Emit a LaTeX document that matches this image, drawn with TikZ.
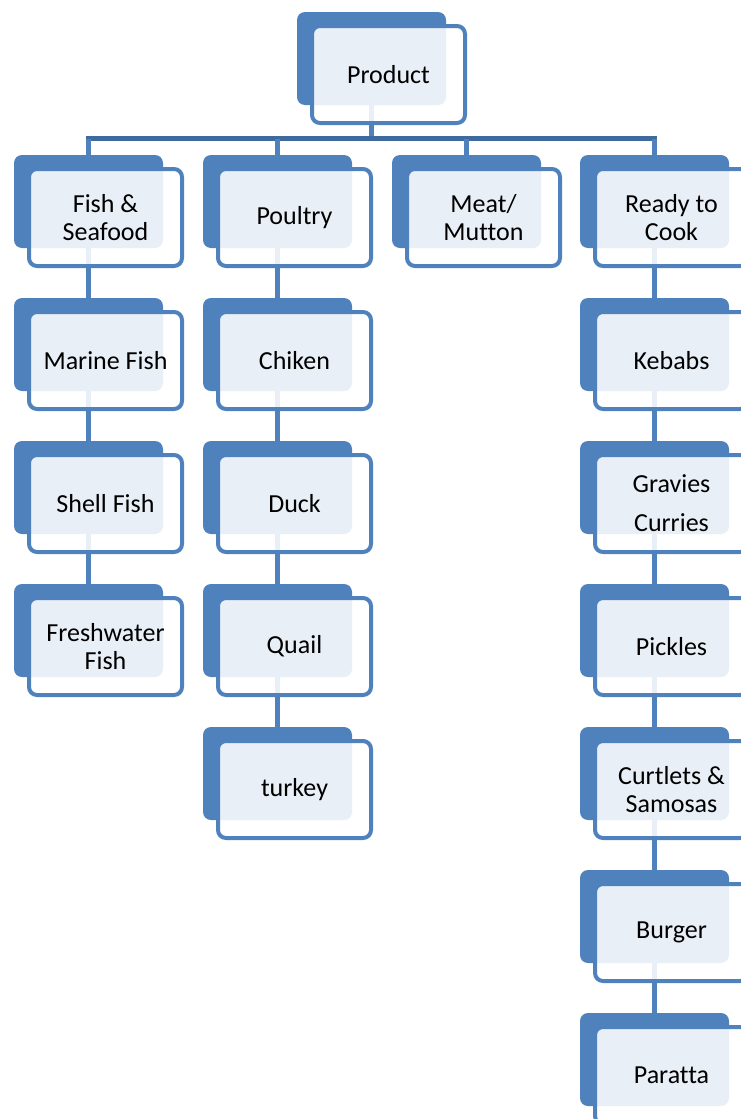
\documentclass[tikz,border=0pt]{standalone}
\usepackage{fontspec}
\setmainfont[Ligatures=NoCommon]{Carlito}
\usetikzlibrary{positioning,backgrounds}
\definecolor{acc}{HTML}{4F81BD}
\definecolor{accdk}{HTML}{3F6A9E}
\tikzset{
  backbox/.style={rounded corners=8pt,fill=acc,minimum width=149pt,minimum height=93pt,
    inner sep=0pt,outer sep=0pt,anchor=north west},
  frontbox/.style={rounded corners=8pt,draw=acc,line width=4pt,fill=white,fill opacity=0.88,
    text opacity=1,minimum width=153pt,minimum height=97pt,inner sep=0pt,outer sep=0pt,
    align=center,font=\fontsize{26}{28}\selectfont},
  link/.style={draw=acc,line width=5pt},
  bus/.style={draw=accdk,line width=5pt},
}
\begin{document}
\begin{tikzpicture}[x=1pt,y=-1pt]
  \useasboundingbox (0,0) rectangle (741,1119);
  \clip (0,0) rectangle (741,1119);
  \foreach \n/\x/\y/\t in {prod/297/12/Product,
      fish/14/155/{Fish \&\\Seafood}, poultry/203/155/Poultry,
      meat/392/155/{Meat/\\Mutton}, ready/580/155/{Ready to\\Cook},
      marine/14/298/{Marine Fish}, shell/14/441/{Shell Fish},
      fresh/14/584/{Freshwater\\Fish},
      chiken/203/298/Chiken, duck/203/441/Duck, quail/203/584/Quail,
      turkey/203/727/turkey,
      kebabs/580/298/Kebabs, gravies/580/441/{Gravies\\[11pt]Curries},
      pickles/580/584/Pickles, curtlets/580/727/{Curtlets \&\\Samosas},
      burger/580/870/Burger, paratta/580/1013/Paratta}{
    \node[backbox] (\n-b) at (\x,\y) {};
    \node[frontbox] (\n) at ([shift={(91.5,62.5)}]\n-b.north west) {\t};
  }
  \coordinate (busy) at (0,138.5);
  \begin{scope}[on background layer]
    \draw[link] (prod-b.south) -- (prod-b.south |- busy);
    \draw[bus] ([xshift=-2.5pt]fish-b.north |- busy) -- ([xshift=2.5pt]ready-b.north |- busy);
    \foreach \c in {fish,poultry,meat,ready}
      \draw[link] (\c-b.north |- busy) -- (\c-b.north);
    \foreach \a/\b in {fish/marine,marine/shell,shell/fresh,
        poultry/chiken,chiken/duck,duck/quail,quail/turkey,
        ready/kebabs,kebabs/gravies,gravies/pickles,pickles/curtlets,
        curtlets/burger,burger/paratta}
      \draw[link] (\a-b.south) -- (\b-b.north);
  \end{scope}
\end{tikzpicture}
\end{document}
